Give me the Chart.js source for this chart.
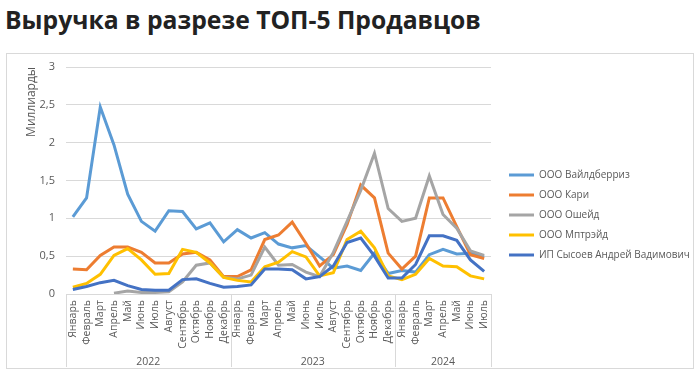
<!DOCTYPE html>
<html lang="ru">
<head>
<meta charset="utf-8">
<title>Выручка в разрезе ТОП-5 Продавцов</title>
<script src="https://cdn.jsdelivr.net/npm/chart.js@4.4.1/dist/chart.umd.min.js"></script>
<style>
  html, body { margin: 0; padding: 0; background: #fff; }
  body { width: 700px; height: 377px; position: relative; overflow: hidden; font-family: "Open Sans", sans-serif; }
  .title { position: absolute; left: 5px; top: 3px; font-size: 24.7px; font-weight: 700; color: #222; white-space: nowrap; }
  .frame { position: absolute; left: 6px; top: 53px; width: 688px; height: 316px; box-sizing: border-box; border: 1px solid #d9d9d9; }
  #chart { position: absolute; left: 0; top: 0; }
</style>
</head>
<body>
<div class="title">Выручка в разрезе ТОП-5 Продавцов</div>
<div class="frame"></div>
<canvas id="chart" width="700" height="377"></canvas>
<script>
// months Jan 2022 .. Jul 2024
const months = ['Январь', 'Февраль', 'Март', 'Апрель', 'Май', 'Июнь', 'Июль', 'Август', 'Сентябрь', 'Октябрь', 'Ноябрь', 'Декабрь'];
const categories = [...months, ...months, ...months.slice(0, 7)];
const years = [
  { label: '2022', from: 0, to: 11 },
  { label: '2023', from: 12, to: 23 },
  { label: '2024', from: 24, to: 30 }
];
const yTickLabels = ['0', '0,5', '1', '1,5', '2', '2,5', '3'];

const seriesNames = ['ООО Вайлдберриз', 'ООО Кари', 'ООО Ошейд', 'ООО Мптрэйд', 'ИП Сысоев Андрей Вадимович'];
const seriesColors = ['#5B9BD5', '#ED7D31', '#A5A5A5', '#FFC000', '#4472C4'];

const wildberries = [1.02, 1.27, 2.47, 1.97, 1.32, 0.96, 0.83, 1.10, 1.09, 0.86, 0.94, 0.69,
  0.85, 0.74, 0.81, 0.66, 0.61, 0.64, 0.49, 0.34, 0.37, 0.31, 0.54, 0.27,
  0.31, 0.29, 0.52, 0.59, 0.53, 0.54, 0.49];
const kari = [0.33, 0.32, 0.51, 0.62, 0.62, 0.55, 0.41, 0.41, 0.53, 0.55, 0.45, 0.23,
  0.23, 0.32, 0.72, 0.78, 0.95, 0.67, 0.37, 0.52, 0.92, 1.44, 1.27, 0.54,
  0.33, 0.50, 1.27, 1.27, 0.89, 0.52, 0.47];
const osheid = [null, null, null, 0.01, 0.04, 0.02, 0.02, 0.03, 0.16, 0.38, 0.41, 0.22,
  0.20, 0.25, 0.62, 0.38, 0.39, 0.29, 0.23, 0.55, 0.96, 1.37, 1.86, 1.13,
  0.96, 1.00, 1.56, 1.05, 0.87, 0.57, 0.51];
const mptreid = [0.09, 0.14, 0.26, 0.51, 0.60, 0.45, 0.26, 0.27, 0.59, 0.55, 0.41, 0.22,
  0.18, 0.16, 0.36, 0.42, 0.56, 0.49, 0.24, 0.28, 0.72, 0.83, 0.61, 0.24,
  0.19, 0.26, 0.47, 0.37, 0.36, 0.24, 0.20];
const sysoev = [0.06, 0.10, 0.15, 0.18, 0.11, 0.06, 0.05, 0.05, 0.19, 0.20, 0.14, 0.09,
  0.10, 0.12, 0.33, 0.33, 0.32, 0.20, 0.23, 0.37, 0.68, 0.74, 0.50, 0.21,
  0.21, 0.39, 0.77, 0.77, 0.71, 0.45, 0.30];

const seriesValues = [wildberries, kari, osheid, mptreid, sysoev];

const gridColor = '#d9d9d9';
const textColor = '#595959';
const fontFamily = '"Open Sans", sans-serif';

// legend geometry: plot ends near x=491, legend lines start near x=510
const legendFontSize = 10;
const legendLine = 25;
const legendPad = 10;
const spacerW = 8;
const measureCtx = document.createElement('canvas').getContext('2d');
measureCtx.font = legendFontSize + 'px ' + fontFamily;
const legendTextW = Math.max(...seriesNames.map(n => measureCtx.measureText(n).width));
// chart.js counts the label padding on both sides of the column
const legendW = 2 * legendPad + legendLine + legendFontSize / 2 + legendTextW;
const rightPad = Math.max(0, 700 - 491 - spacerW - legendW);

// year row under the month labels, with separators like in Excel
const yearGroups = {
  id: 'yearGroups',
  afterDraw(chart) {
    const x = chart.scales.x;
    const ctx = chart.ctx;
    const half = (x.getPixelForValue(1) - x.getPixelForValue(0)) / 2;
    const top = x.top;
    const bottom = 367;
    ctx.save();
    ctx.strokeStyle = gridColor;
    ctx.lineWidth = 1;
    ctx.fillStyle = textColor;
    ctx.font = '10.5px ' + fontFamily;
    ctx.textAlign = 'center';
    ctx.textBaseline = 'middle';
    years.forEach((g, i) => {
      const left = x.getPixelForValue(g.from) - half;
      const right = x.getPixelForValue(g.to) + half;
      ctx.beginPath();
      if (i === 0) {
        ctx.moveTo(Math.round(left) + 0.5, top);
        ctx.lineTo(Math.round(left) + 0.5, bottom);
      }
      ctx.moveTo(Math.round(right) + 0.5, top);
      ctx.lineTo(Math.round(right) + 0.5, bottom);
      ctx.stroke();
      ctx.fillText(g.label, (left + right) / 2, 362);
    });
    ctx.restore();
  }
};

new Chart(document.getElementById('chart'), {
  type: 'line',
  data: {
    labels: categories,
    datasets: seriesNames.map((name, i) => ({
      label: name,
      data: seriesValues[i],
      borderColor: seriesColors[i],
      backgroundColor: seriesColors[i],
      borderWidth: 3,
      pointRadius: 0,
      tension: 0,
      order: seriesNames.length - i
    }))
  },
  options: {
    responsive: false,
    animation: false,
    layout: { padding: { left: 0, top: 67, right: rightPad, bottom: 14 } },
    plugins: {
      title: { display: false },
      tooltip: { enabled: false },
      legend: {
        position: 'right',
        align: 'center',
        reverse: true,
        maxWidth: 260,
        labels: {
          usePointStyle: true,
          pointStyle: 'line',
          pointStyleWidth: legendLine,
          padding: legendPad,
          color: textColor,
          font: { family: fontFamily, size: legendFontSize }
        }
      }
    },
    scales: {
      x: {
        offset: true,
        grid: { display: false, drawTicks: false },
        border: { display: true, color: gridColor },
        ticks: {
          autoSkip: false,
          minRotation: 90,
          maxRotation: 90,
          padding: 6,
          color: textColor,
          font: { family: fontFamily, size: 10.5 }
        },
        afterFit(scale) { scale.height = 69; }
      },
      y: {
        min: 0,
        max: 3,
        grid: { color: gridColor, drawTicks: false },
        border: { display: false },
        ticks: {
          stepSize: 0.5,
          padding: 11,
          color: textColor,
          font: { family: fontFamily, size: 11 },
          callback: (v, i) => yTickLabels[i]
        },
        title: {
          display: true,
          text: 'Миллиарды',
          align: 'end',
          color: textColor,
          font: { family: fontFamily, size: 12 },
          padding: { top: 24, bottom: 0 }
        },
        afterFit(scale) { scale.width = 66; }
      },
      spacer: {
        type: 'linear',
        position: 'right',
        grid: { display: false, drawTicks: false },
        border: { display: false },
        ticks: { display: false },
        afterFit(scale) { scale.width = spacerW; }
      }
    }
  },
  plugins: [yearGroups]
});
</script>
</body>
</html>
